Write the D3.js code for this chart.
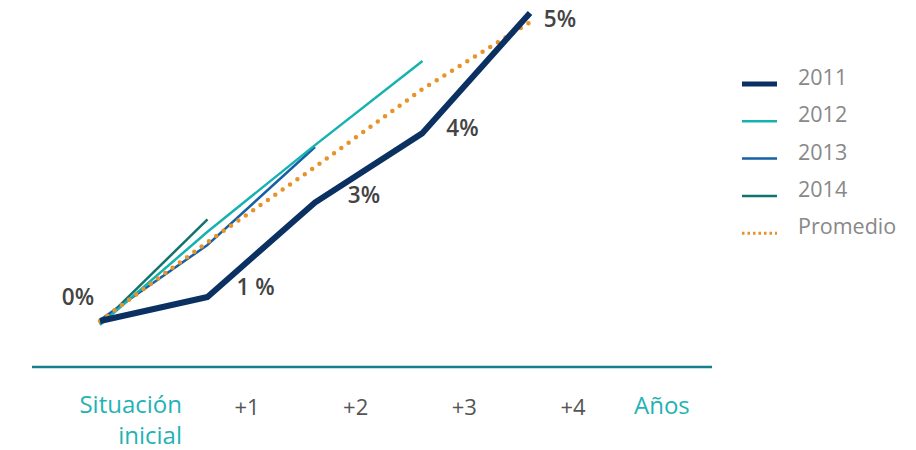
<!DOCTYPE html>
<html>
<head>
<meta charset="utf-8">
<script src="https://cdn.jsdelivr.net/npm/d3@7"></script>
<style>
  body { margin: 0; background: #fff; }
  text { font-family: "Open Sans", sans-serif; }
</style>
</head>
<body>
<svg id="chart"></svg>
<script>
// data (index values, start = 0)
var steps = [0, 1, 2, 3, 4];
var s2011 = [0, 7.8, 38.5, 61, 100];
var s2012 = [-1.2, 29, 57.1, 84.4];
var s2013 = [0.3, 24.7, 56.5];
var s2014 = [-1.2, 33];
var promedio = [0, 25.6, 50, 75.3, 97];
var pctLabels = ["0%", "1 %", "3%", "4%", "5%"];
var tickLabels = ["+1", "+2", "+3", "+4"];
var seriesNames = ["2011", "2012", "2013", "2014", "Promedio"];

// parameters
var width = 916;
var height = 450;

var svg = d3.select("#chart");
svg.attr("width", width);
svg.attr("height", height);

var x = d3.scaleLinear().domain([0, 4]).range([100, 530]);
var y = d3.scaleLinear().domain([0, 100]).range([321, 13]);
// axis labels sit between the data steps
var xa = d3.scaleLinear().domain([1, 4]).range([247, 573]);

var series = [
  { name: "2011", values: s2011, color: "#0a3162", width: 6 },
  { name: "2012", values: s2012, color: "#16b2b0", width: 2.5 },
  { name: "2013", values: s2013, color: "#1660a6", width: 2.5 },
  { name: "2014", values: s2014, color: "#11736f", width: 2.5 }
];

var line = d3.line()
  .x(function (d, i) { return x(steps[i]); })
  .y(function (d) { return y(d); });

// draw base line
svg.append("line")
  .attr("x1", 32).attr("x2", 712)
  .attr("y1", 367).attr("y2", 367)
  .attr("stroke", "#16808a")
  .attr("stroke-width", 2.5);

// draw the thin series
series.slice(1).reverse().forEach(function (s) {
  svg.append("path")
    .attr("d", line(s.values))
    .attr("fill", "none")
    .attr("stroke", s.color)
    .attr("stroke-width", s.width)
    .attr("stroke-linejoin", "round");
});

// average, dotted
svg.append("path")
  .attr("d", line(promedio))
  .attr("fill", "none")
  .attr("stroke", "#e8922a")
  .attr("stroke-width", 4.5)
  .attr("stroke-linecap", "round")
  .attr("stroke-dasharray", "0, 9");

// 2011 on top
svg.append("path")
  .attr("d", line(s2011))
  .attr("fill", "none")
  .attr("stroke", "#0a3162")
  .attr("stroke-width", 6)
  .attr("stroke-linejoin", "round");

// percent labels next to 2011 points
var offs = [[-22, -16], [48, -2], [49, 1], [40, 3], [30, 14]];
for (var i = 0; i < pctLabels.length; i++) {
  svg.append("text")
    .attr("x", x(steps[i]) + offs[i][0])
    .attr("y", y(s2011[i]) + offs[i][1])
    .attr("text-anchor", "middle")
    .attr("font-size", 22.5)
    .attr("font-weight", 600)
    .attr("fill", "#444")
    .text(pctLabels[i]);
}

// x labels
var sit = svg.append("text")
  .attr("x", 182)
  .attr("y", 413)
  .attr("text-anchor", "end")
  .attr("font-size", 24)
  .attr("fill", "#1fb3b5");
sit.append("tspan").attr("x", 182).text("Situación");
sit.append("tspan").attr("x", 182).attr("dy", 31).text("inicial");

tickLabels.forEach(function (t, i) {
  svg.append("text")
    .attr("x", xa(i + 1))
    .attr("y", 415)
    .attr("text-anchor", "middle")
    .attr("font-size", 22)
    .attr("fill", "#555")
    .text(t);
});

svg.append("text")
  .attr("x", 634)
  .attr("y", 414)
  .attr("font-size", 24)
  .attr("fill", "#1fb3b5")
  .text("Años");

// legend
var legendColors = ["#0a3162", "#16b2b0", "#1660a6", "#11736f", "#e8922a"];
var legendWidths = [5, 2.5, 2.5, 2.5, 3];
for (var i = 0; i < seriesNames.length; i++) {
  var ly = 84 + i * 37.3;
  var l = svg.append("line")
    .attr("x1", 742).attr("x2", 777)
    .attr("y1", ly).attr("y2", ly)
    .attr("stroke", legendColors[i])
    .attr("stroke-width", legendWidths[i]);
  if (seriesNames[i] == "Promedio") {
    l.attr("stroke-dasharray", "2.5, 3");
  }

  svg.append("text")
    .attr("x", 798)
    .attr("y", ly + 1)
    .attr("font-size", 21.5)
    .attr("fill", "#888")
    .text(seriesNames[i]);
}
</script>
</body>
</html>
